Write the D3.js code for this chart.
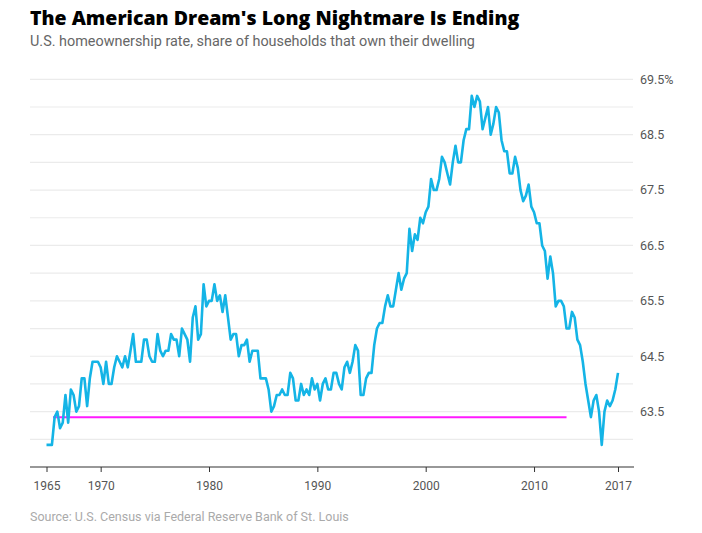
<!DOCTYPE html>
<html lang="en">
<head>
<meta charset="UTF-8">
<title>The American Dream's Long Nightmare Is Ending</title>
<script src="https://cdn.jsdelivr.net/npm/d3@7"></script>
<style>
    body { margin: 0; background: #fff; }
</style>
</head>
<body>
<script>
    var w = 702;
    var h = 533;

    // quarterly homeownership rate, 1965 Q1 .. 2017 Q4 (one row per year)
    var startYear = 1965;
    var rate = [
        62.9, 62.9, 62.9, 63.4,
        63.5, 63.2, 63.3, 63.8,
        63.3, 63.9, 63.8, 63.5,
        63.6, 64.1, 64.1, 63.6,
        64.1, 64.4, 64.4, 64.4,
        64.3, 64.0, 64.4, 64.0,   // 1970
        64.0, 64.3, 64.5, 64.4,
        64.3, 64.5, 64.3, 64.6,
        64.9, 64.4, 64.4, 64.4,
        64.8, 64.8, 64.5, 64.4,
        64.4, 64.9, 64.6, 64.5,
        64.6, 64.6, 64.9, 64.8,
        64.8, 64.5, 65.0, 64.9,
        64.8, 64.4, 65.2, 65.4,
        64.8, 64.9, 65.8, 65.4,
        65.5, 65.5, 65.8, 65.5,   // 1980
        65.6, 65.3, 65.6, 65.2,
        64.8, 64.9, 64.9, 64.5,
        64.7, 64.7, 64.8, 64.4,
        64.6, 64.6, 64.6, 64.1,
        64.1, 64.1, 63.9, 63.5,
        63.6, 63.8, 63.8, 63.9,
        63.8, 63.8, 64.2, 64.1,
        63.7, 63.7, 64.0, 63.8,
        63.9, 63.8, 64.1, 63.9,
        64.0, 63.7, 64.0, 64.1,   // 1990
        63.9, 63.9, 64.2, 64.2,
        64.0, 63.9, 64.3, 64.4,
        64.2, 64.4, 64.7, 64.6,
        63.8, 63.8, 64.1, 64.2,
        64.2, 64.7, 65.0, 65.1,
        65.1, 65.4, 65.6, 65.4,
        65.4, 65.7, 66.0, 65.7,
        65.9, 66.0, 66.8, 66.4,
        66.7, 66.6, 67.0, 66.9,
        67.1, 67.2, 67.7, 67.5,   // 2000
        67.5, 67.7, 68.1, 68.0,
        67.8, 67.6, 68.0, 68.3,
        68.0, 68.0, 68.4, 68.6,
        68.6, 69.2, 69.0, 69.2,
        69.1, 68.6, 68.8, 69.0,
        68.5, 68.7, 69.0, 68.9,
        68.4, 68.2, 68.2, 67.8,
        67.8, 68.1, 67.9, 67.5,
        67.3, 67.4, 67.6, 67.2,
        67.1, 66.9, 66.9, 66.5,   // 2010
        66.4, 65.9, 66.3, 66.0,
        65.4, 65.5, 65.5, 65.4,
        65.0, 65.0, 65.3, 65.2,
        64.8, 64.7, 64.4, 64.0,
        63.7, 63.4, 63.7, 63.8,
        63.5, 62.9, 63.5, 63.7,
        63.6, 63.7, 63.9, 64.2
    ];

    // reference level drawn in magenta
    var refSpan = [1965.6, 2013.0];
    var refValue = 63.4;

    var gridValues = [63, 63.5, 64, 64.5, 65, 65.5, 66, 66.5, 67, 67.5, 68, 68.5, 69, 69.5];
    var yTicks = [63.5, 64.5, 65.5, 66.5, 67.5, 68.5, 69.5];
    var xTicks = [1965, 1970, 1980, 1990, 2000, 2010, 2017.75];
    var xTickLabels = ["1965", "1970", "1980", "1990", "2000", "2010", "2017"];

    var data = rate.map(function (v, i) {
        return { t: startYear + i / 4, v: v };
    });

    var svg = d3.select("body")
        .append("svg")
        .attr("width", w)
        .attr("height", h);

    var xScale = d3.scaleLinear()
        .domain([1965, 2017.75])
        .range([46.5, 618]);

    var yScale = d3.scaleLinear()
        .domain([62.5, 69.5])
        .range([467, 79.3]);

    // grid
    svg.selectAll("line.grid")
        .data(gridValues).enter()
        .append("line")
        .attr("class", "grid")
        .attr("x1", 30)
        .attr("x2", 633)
        .attr("y1", function (d) { return yScale(d); })
        .attr("y2", function (d) { return yScale(d); })
        .attr("stroke", "#ebebeb")
        .attr("stroke-width", 1.2);

    // y labels on the right
    svg.selectAll("text.ylab")
        .data(yTicks).enter()
        .append("text")
        .attr("class", "ylab")
        .attr("x", 640)
        .attr("y", function (d) { return yScale(d); })
        .attr("dy", "0.35em")
        .text(function (d, i) { return d.toFixed(1) + (i === yTicks.length - 1 ? "%" : ""); })
        .attr("font-family", "Roboto, sans-serif")
        .attr("font-size", "12.5px")
        .attr("fill", "#555");

    // x axis
    var xAxis = d3.axisBottom(xScale)
        .tickValues(xTicks)
        .tickFormat(function (d, i) { return xTickLabels[i]; })
        .tickSize(5)
        .tickPadding(9);

    var gx = svg.append("g")
        .attr("transform", "translate(0," + yScale(62.5) + ")")
        .call(xAxis);
    gx.select(".domain").remove();
    gx.append("line")
        .attr("x1", 30)
        .attr("x2", 634)
        .attr("stroke", "#333")
        .attr("stroke-width", 1.2);
    gx.selectAll(".tick line").attr("stroke", "#333");
    gx.selectAll(".tick text")
        .attr("font-family", "Roboto, sans-serif")
        .attr("font-size", "12px")
        .attr("fill", "#555");

    // magenta reference line
    svg.append("line")
        .attr("x1", xScale(refSpan[0]))
        .attr("x2", xScale(refSpan[1]))
        .attr("y1", yScale(refValue))
        .attr("y2", yScale(refValue))
        .attr("stroke", "#ff1aff")
        .attr("stroke-width", 2);

    // series
    var line = d3.line()
        .x(function (d) { return xScale(d.t); })
        .y(function (d) { return yScale(d.v); });

    svg.append("path")
        .datum(data)
        .attr("d", line)
        .attr("fill", "none")
        .attr("stroke", "#14b4e6")
        .attr("stroke-width", 2.6)
        .attr("stroke-linejoin", "round");

    // titles
    svg.append("text")
        .attr("x", 30)
        .attr("y", 25)
        .text("The American Dream's Long Nightmare Is Ending")
        .attr("font-family", "'Open Sans', sans-serif")
        .attr("font-weight", 800)
        .attr("font-size", "19.5px")
        .attr("fill", "#000");

    svg.append("text")
        .attr("x", 30)
        .attr("y", 46)
        .text("U.S. homeownership rate, share of households that own their dwelling")
        .attr("font-family", "Roboto, sans-serif")
        .attr("font-size", "14.4px")
        .attr("fill", "#666");

    svg.append("text")
        .attr("x", 30)
        .attr("y", 521)
        .text("Source: U.S. Census via Federal Reserve Bank of St. Louis")
        .attr("font-family", "Roboto, sans-serif")
        .attr("font-size", "12.5px")
        .attr("fill", "#aaa");
</script>
</body>
</html>
